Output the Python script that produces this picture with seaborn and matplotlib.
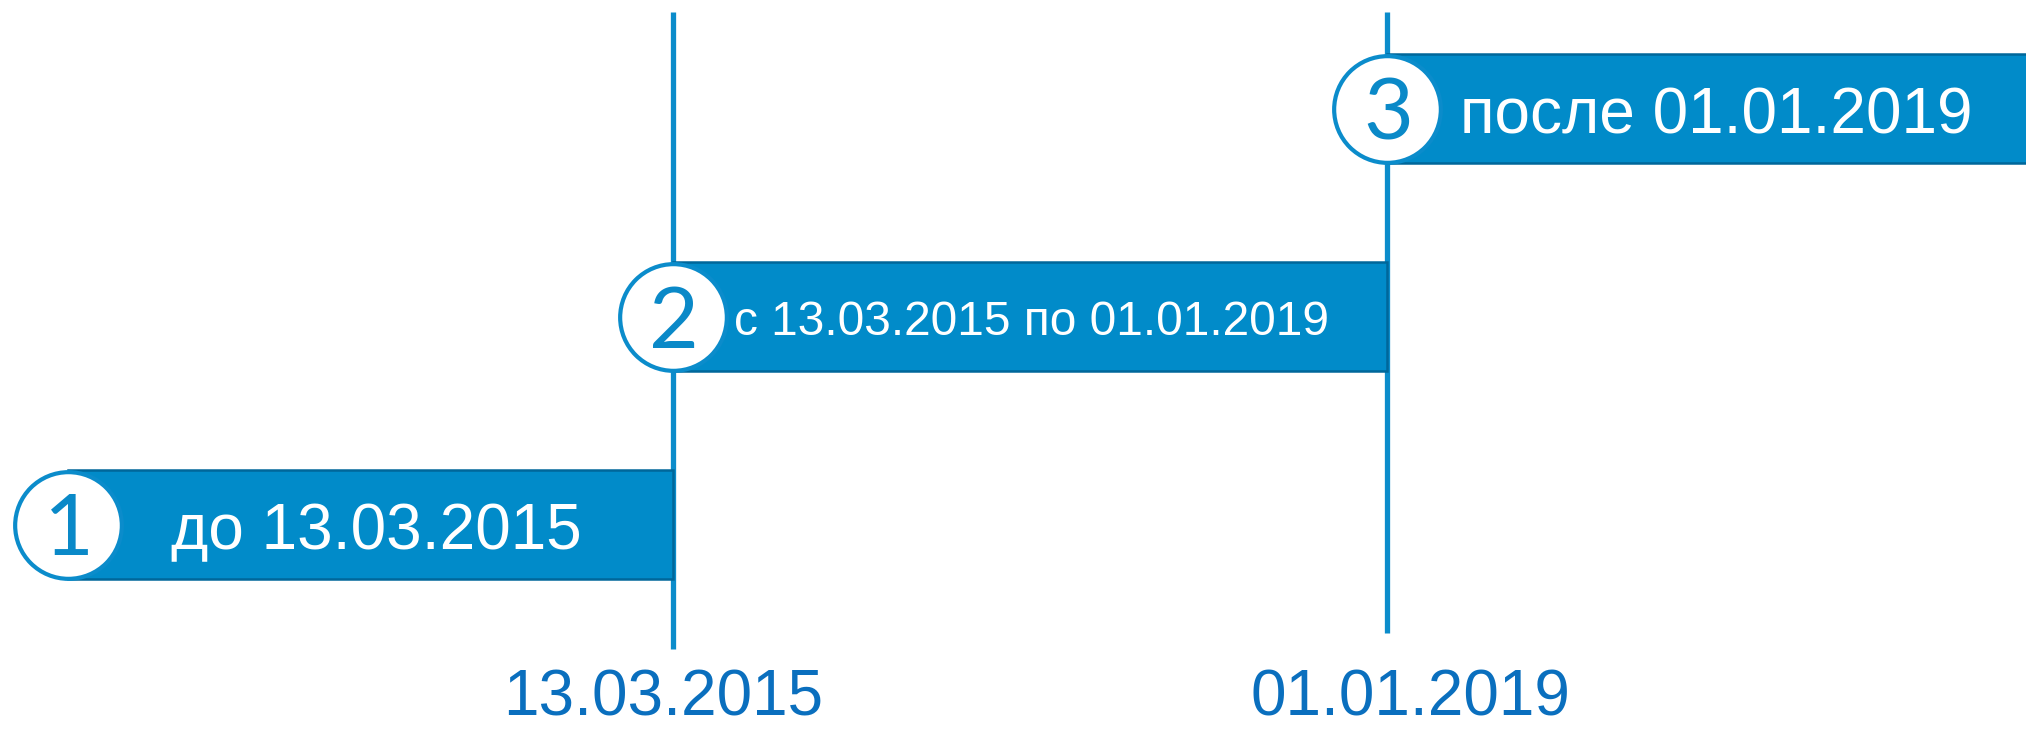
import matplotlib
matplotlib.use("Agg")
import matplotlib.pyplot as plt
import matplotlib.dates as mdates
import seaborn as sns
import pandas as pd
import numpy as np

# ---- data ----
stage_numbers = ["1", "2", "3"]
stage_labels = ["до 13.03.2015", "с 13.03.2015 по 01.01.2019", "после 01.01.2019"]
stage_start = ["2011-12-21", "2015-03-13", "2019-01-01"]
stage_end = ["2015-03-13", "2019-01-01", "2022-12-31"]
milestones = ["2015-03-13", "2019-01-01"]
milestone_labels = ["13.03.2015", "01.01.2019"]

# ---- style ----
sns.set_theme(style="white")
plt.rcParams["font.family"] = ["Liberation Sans", "DejaVu Sans"]

BAR = "#018bc9"
BAR_EDGE = "#00679a"
LINE = "#0b8ccb"
NUM = "#0a89c8"
LAB = "#0a6fbe"

df = pd.DataFrame({
    "num": stage_numbers,
    "label": stage_labels,
    "start": mdates.date2num(pd.to_datetime(stage_start)),
    "end": mdates.date2num(pd.to_datetime(stage_end)),
    "row": [0, 1, 2],
})
ms = mdates.date2num(pd.to_datetime(milestones))

fig = plt.figure(figsize=(20.26, 7.30), dpi=100)
ax = fig.add_axes([0, 0, 1, 1])
ax.set_xlim(mdates.date2num(pd.Timestamp("2011-08-11")), mdates.date2num(pd.Timestamp("2022-05-29")))
ax.set_ylim(-0.986, 2.524)
ax.axis("off")

# vertical milestone lines
ax.vlines(ms[0], -0.596, 2.466, color=LINE, lw=3.8, zorder=1)
ax.vlines(ms[1], -0.519, 2.466, color=LINE, lw=3.8, zorder=1)

# bars
ax.barh(df["row"], df["end"] - df["start"], left=df["start"], height=0.524,
        color=BAR, edgecolor=BAR_EDGE, linewidth=1.8, zorder=2)

# circles
sns.scatterplot(data=df, x="start", y="row", s=5900, marker="o", color="white",
                edgecolor=LINE, linewidth=3.0, zorder=3, ax=ax, legend=False)

# numbers
for _, r in df.iterrows():
    ax.annotate(r["num"], (r["start"], r["row"]), xytext=(1, -22), textcoords="offset points",
                ha="center", va="baseline", fontsize=62, color=NUM, family=["Lato", "DejaVu Sans"], zorder=4)

# bar labels
offsets = [(74, -17.3, 46), (44, -13, 34.5), (52.6, -17.3, 46)]
for (_, r), (dx, dy, fs) in zip(df.iterrows(), offsets):
    ax.annotate(r["label"], (r["start"], r["row"]), xytext=(dx, dy), textcoords="offset points",
                ha="left", va="baseline", fontsize=fs, color="white", zorder=4)

# milestone labels
for x, t, dx in zip(ms, milestone_labels, [-7, 17]):
    ax.annotate(t, (x, -0.971), xytext=(dx, 8), textcoords="offset points",
                ha="center", va="baseline", fontsize=46, color=LAB)

fig.savefig("out.png", dpi=100)
